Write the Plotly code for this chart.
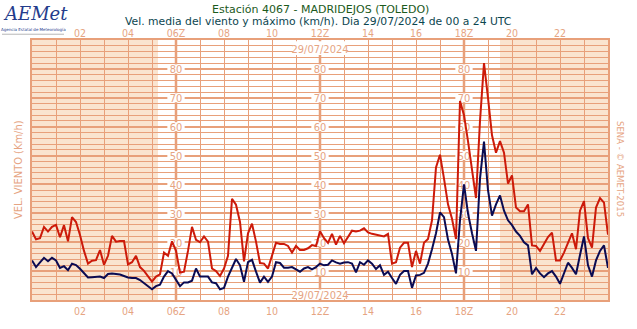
import plotly.graph_objects as go

# ---------------- data (10-minute values, 00:00 .. 24:00 UTC) ----------------
max_kmh = [
    23.7, 21, 21.4, 25.3, 23.7, 25.3, 26, 21.7, 25.9, 20.3, 28.7, 27, 22.5,
    17, 12.6, 13.6, 13.8, 17.3, 12.2, 15.3, 22.2, 20.2, 20.4, 20.4, 12.3,
    13.1, 15.3, 11.4, 10.1, 8.3, 6.4, 8.1, 8.9, 16.4, 15.3, 20.3, 17,
    9.5, 9.8, 17, 25.3, 20.8, 20.0, 22, 20.2, 10.9, 10, 8.3, 10.9,
    15.3, 35, 33, 27, 13.4, 23.1, 26.4, 20.2, 12.8, 12.6, 10.9, 15.3,
    19.8, 19.4, 19.4, 18.7, 16.4, 18.7, 17.3, 17.3, 17.9, 19, 18.7, 23.8,
    21.4, 19.8, 22.9, 19.2, 22.2, 19.6, 22, 24, 23.7, 24, 24.8, 23.4,
    22.9, 22.6, 22.2, 22, 22.9, 12.6, 13.1, 18.1, 19.8, 19.8, 11.4, 17,
    12.6, 19.8, 21.1, 27.6, 45.9, 50.3, 42, 33.1, 28.1, 21.1, 68.9, 64,
    55, 45.3, 35.3, 62, 82, 70, 57, 51, 55, 51, 40.3, 43.1,
    32, 30.7, 30.7, 33.1, 18.9, 18.7, 17, 19.4, 21.8, 23.3, 13.7, 13.7,
    16.4, 19.8, 23.1, 17.6, 30.9, 34.2, 21.4, 18.1, 32, 35.3, 33.7, 22.6,
]
mean_kmh = [
    13.7, 11.4, 13, 14.6, 13.4, 14.6, 13.7, 11.1, 11.7, 10.3, 12.6, 12.1, 10.8,
    9.2, 7.8, 7.9, 8.1, 8.1, 7.6, 9.0, 9.2, 9.0, 8.8, 8.3, 7.8,
    7.6, 7.6, 6.9, 5.9, 5.0, 3.7, 4.8, 5.3, 8.1, 10, 9.2, 7,
    4.8, 6.1, 6.1, 6.7, 10.9, 8.1, 8.1, 8.1, 6.1, 5.8, 3.7, 4.2,
    8.1, 11.4, 14.2, 12, 6.3, 13.1, 13.9, 9.8, 6, 8.1, 6.3, 8.1,
    13.1, 12.8, 11.2, 11.2, 11.4, 10.6, 9.8, 10.9, 11.4, 10.6, 11.4, 12.6,
    12, 12.2, 13.7, 13, 12.6, 13, 13.1, 12.6, 9.6, 13.1, 12.2, 13.7,
    12.6, 10.7, 12, 8.7, 9.8, 7.6, 5.6, 8.7, 10, 10, 4.2, 8.5,
    8.7, 9.4, 12.6, 17.6, 23.1, 30.3, 28.7, 20.9, 15.9, 9.2, 27.6, 40,
    30, 23.1, 17, 42, 54.8, 38, 29.2, 33.1, 36.2, 30.9, 27.6, 25.9,
    23.7, 22.2, 20, 18.9, 8.9, 11.1, 9.2, 7.9, 9.2, 10, 8.1, 5.6,
    9.2, 12.9, 11.1, 8.9, 15.6, 22, 12, 8.1, 13.7, 17, 18.9, 11.1,
]
hours = [i / 6 for i in range(len(max_kmh))]

hour_ticks = [2, 4, 6, 8, 10, 12, 14, 16, 18, 20, 22]
hour_labels = ["02", "04", "06Z", "08", "10", "12Z", "14", "16", "18Z", "20", "22"]
speed_ticks = [10, 20, 30, 40, 50, 60, 70, 80]
label_columns = [6, 12, 18]
night_periods = [(0, 5.25), (19.5, 24)]
date_text = "29/07/2024"

# ---------------- style ----------------
GRID = "#e8a07a"
LABEL = "#e6a482"
NIGHT = "#fae4cf"
RED = "#cc1a0a"
NAVY = "#0b0b52"
FONT = "DejaVu Sans Condensed, Liberation Sans Narrow, Liberation Sans, sans-serif"

W, H = 637, 329
L, R, T, B = 32, 29, 40, 19
PW, PH = W - L - R, H - T - B


def px(x, y):
    return (x - L) / PW, (H - B - y) / PH


fig = go.Figure()
fig.add_trace(go.Scatter(x=hours, y=max_kmh, mode="lines", xaxis="x2",
                         line=dict(color=RED, width=2), showlegend=False))
fig.add_trace(go.Scatter(x=hours, y=mean_kmh, mode="lines",
                         line=dict(color=NAVY, width=2), showlegend=False))

shapes = []
for a, b in night_periods:
    shapes.append(dict(type="rect", xref="x", yref="y", x0=a, x1=b, y0=0, y1=90,
                       fillcolor=NIGHT, line=dict(width=0), layer="below"))
for c in label_columns:
    shapes.append(dict(type="line", xref="x", yref="y", x0=c, x1=c, y0=0, y1=90,
                       line=dict(color=GRID, width=2.5), layer="below"))
# value labels inside the grid (white boxes, drawn under the data lines)
for c in label_columns:
    for v in speed_ticks:
        shapes.append(dict(type="rect", xref="x", yref="y",
                           x0=c - 0.36, x1=c + 0.36, y0=v - 1.55, y1=v + 1.55,
                           fillcolor="white", line=dict(width=0), layer="between",
                           label=dict(text=str(v), font=dict(family=FONT, size=11, color=LABEL),
                                      textposition="middle center", padding=0)))
for y0, y1 in [(84.8, 89.6), (0.4, 3.6)]:
    shapes.append(dict(type="rect", xref="x", yref="y", x0=12 - 1.13, x1=12 + 1.13,
                       y0=y0, y1=y1, fillcolor="white", line=dict(width=0), layer="between",
                       label=dict(text=date_text, font=dict(family=FONT, size=11, color=LABEL),
                                  textposition="middle center", padding=0)))
# thin grey rule under the logo
x0p, y0p = px(2, 34)
x1p, _ = px(64, 34)
shapes.append(dict(type="line", xref="paper", yref="paper", x0=x0p, x1=x1p, y0=y0p, y1=y0p,
                   line=dict(color="#b8b8b8", width=1)))

annotations = []
ax, ay = px(320, 8)
annotations.append(dict(text="Estación 4067 - MADRIDEJOS (TOLEDO)", x=ax, y=ay, xref="paper", yref="paper",
                        showarrow=False, xanchor="center", yanchor="middle",
                        font=dict(family="DejaVu Sans", size=11, color="#1c5a1c")))
ax, ay = px(318, 20.5)
annotations.append(dict(text="Vel. media del viento y máximo (km/h). Dia 29/07/2024 de 00 a 24 UTC",
                        x=ax, y=ay, xref="paper", yref="paper", showarrow=False,
                        xanchor="center", yanchor="middle",
                        font=dict(family="DejaVu Sans", size=10.8, color="#0c4650")))
ax, ay = px(18, 175)
annotations.append(dict(text="VEL. VIENTO (Km/h)", x=ax, y=ay, xref="paper", yref="paper",
                        showarrow=False, textangle=-90, xanchor="center", yanchor="middle",
                        font=dict(family=FONT, size=11, color=LABEL)))
ax, ay = px(621, 174)
annotations.append(dict(text="SENA - © AEMET-2015", x=ax, y=ay, xref="paper", yref="paper",
                        showarrow=False, textangle=90, xanchor="center", yanchor="middle",
                        font=dict(family=FONT, size=9.5, color=LABEL)))
ax, ay = px(35, 13)
annotations.append(dict(text="<i>AEMet</i>", x=ax, y=ay, xref="paper", yref="paper",
                        showarrow=False, xanchor="center", yanchor="middle",
                        font=dict(family="DejaVu Serif", size=18, color="#243c8c")))
ax, ay = px(33, 29.5)
annotations.append(dict(text="Agencia Estatal de Meteorología", x=ax, y=ay, xref="paper", yref="paper",
                        showarrow=False, xanchor="center", yanchor="middle",
                        font=dict(family="DejaVu Sans", size=4, color="#243c8c")))

xaxis_common = dict(range=[0, 24], tickvals=hour_ticks, ticktext=hour_labels,
                    tickfont=dict(family=FONT, size=10.5, color=LABEL), ticks="",
                    zeroline=False, fixedrange=True, ticklabelstandoff=0)
fig.update_layout(
    width=W, height=H, margin=dict(l=L, r=R, t=T, b=B),
    paper_bgcolor="white", plot_bgcolor="white",
    xaxis=dict(**xaxis_common, showgrid=True, gridcolor=GRID, gridwidth=1,
               minor=dict(dtick=1, tick0=0, showgrid=True, gridcolor=GRID, gridwidth=1),
               showline=True, linecolor=GRID, linewidth=2, mirror=True),
    xaxis2=dict(**xaxis_common, overlaying="x", side="top", showgrid=False, showline=False),
    yaxis=dict(range=[0, 90], dtick=10, showticklabels=False, showgrid=True,
               gridcolor=GRID, gridwidth=2, zeroline=False,
               minor=dict(dtick=2, showgrid=True, gridcolor=GRID, gridwidth=1),
               showline=True, linecolor=GRID, linewidth=2, mirror=True, fixedrange=True),
    shapes=shapes, annotations=annotations, showlegend=False,
)
fig.write_html("out.html")
